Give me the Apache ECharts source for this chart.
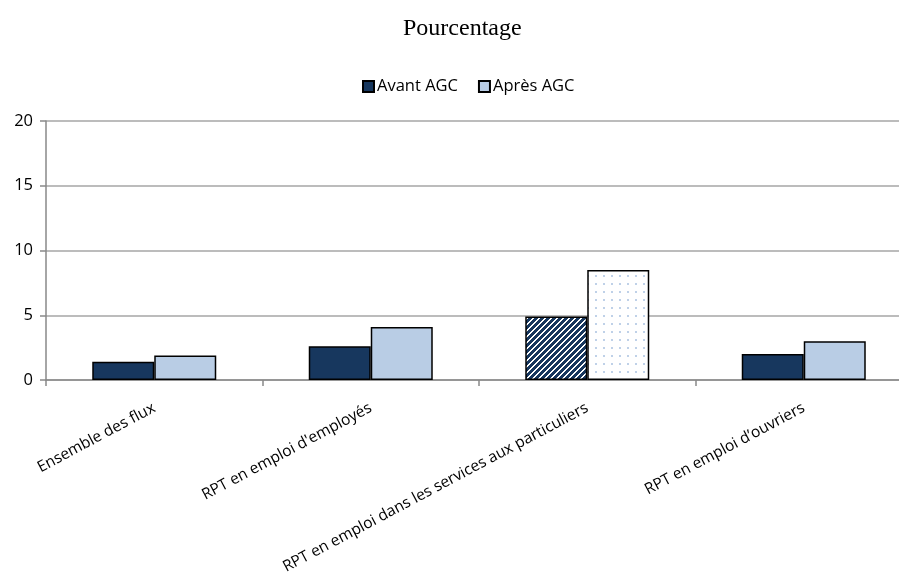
<!DOCTYPE html>
<html>
<head>
<meta charset="utf-8">
<script src="https://cdn.jsdelivr.net/npm/echarts@6/dist/echarts.min.js"></script>
<style>
  html, body { margin: 0; padding: 0; background: #fff; overflow: hidden; }
  /* plot area runs slightly past the right edge of the window */
  #chart { width: 912px; height: 578px; }
</style>
</head>
<body>
<div id="chart"></div>
<script>
// Categories and values (percent)
const categories = [
  "Ensemble des flux",
  "RPT en emploi d'employés",
  "RPT en emploi dans les services aux particuliers",
  "RPT en emploi d\u2019ouvriers"
];
const avantAGC = [1.4, 2.6, 4.9, 2.0];
const apresAGC = [1.9, 4.1, 8.5, 3.0];
const seriesNames = ["Avant AGC", "Après AGC"];
const yMin = 0, yMax = 20, yStep = 5;
const patternedIndex = 2; // category drawn with hatch / dot fills

const navy = "#17375e";
const lightBlue = "#b9cde5";
const uiFont = "'Open Sans', 'Liberation Sans', sans-serif";

// Diagonal navy stripes on white
function makeStripeTile() {
  const s = 6;
  const c = document.createElement("canvas");
  c.width = s; c.height = s;
  const ctx = c.getContext("2d");
  const img = ctx.createImageData(s, s);
  for (let y = 0; y < s; y++) {
    for (let x = 0; x < s; x++) {
      const k = (x + y) % s;
      const dark = k < 3.5;
      const i = (y * s + x) * 4;
      img.data[i] = dark ? 0x17 : 0xff;
      img.data[i + 1] = dark ? 0x37 : 0xff;
      img.data[i + 2] = dark ? 0x5e : 0xff;
      img.data[i + 3] = 255;
    }
  }
  ctx.putImageData(img, 0, 0);
  return c;
}

// Sparse light-blue dots on white
function makeDotTile() {
  const s = 8;
  const c = document.createElement("canvas");
  c.width = s; c.height = s;
  const ctx = c.getContext("2d");
  ctx.fillStyle = "#ffffff";
  ctx.fillRect(0, 0, s, s);
  ctx.fillStyle = "#bfd1e8";
  ctx.fillRect(3, 3, 2, 2);
  return c;
}

const stripeFill = { image: makeStripeTile(), repeat: "repeat" };
const dotFill = { image: makeDotTile(), repeat: "repeat" };

function buildData(values, pattern) {
  return values.map((v, i) => i === patternedIndex
    ? { value: v, itemStyle: { color: pattern } }
    : v);
}

const chart = echarts.init(document.getElementById("chart"), null, { renderer: "canvas" });

chart.setOption({
  animation: false,
  backgroundColor: "#ffffff",
  title: {
    text: "Pourcentage",
    left: 398,
    top: 12,
    textStyle: {
      fontFamily: "'Liberation Serif', 'DejaVu Serif', serif",
      fontWeight: "normal",
      fontSize: 24,
      color: "#000"
    }
  },
  legend: {
    data: seriesNames,
    left: 357,
    top: 73,
    itemWidth: 11,
    itemHeight: 11,
    itemGap: 20,
    icon: "rect",
    textStyle: { fontFamily: uiFont, fontSize: 16.5, color: "#000", padding: [0, 0, 0, -2] }
  },
  grid: { left: 46, right: 0, top: 121, bottom: 198 },
  xAxis: {
    type: "category",
    data: categories,
    axisLine: { lineStyle: { color: "#898989", width: 1.5 } },
    axisTick: { show: true, length: 6, lineStyle: { color: "#898989", width: 1.5 } },
    axisLabel: {
      rotate: 28,
      margin: 27,
      interval: 0,
      fontFamily: uiFont,
      fontSize: 15.5,
      color: "#000"
    }
  },
  yAxis: {
    type: "value",
    min: yMin,
    max: yMax,
    interval: yStep,
    axisLine: { show: true, lineStyle: { color: "#898989", width: 1.5 } },
    axisTick: { show: true, length: 6, lineStyle: { color: "#898989", width: 1.5 } },
    splitLine: { lineStyle: { color: "#a6a6a6", width: 1.5 } },
    axisLabel: {
      margin: 13,
      fontFamily: uiFont,
      fontSize: 16.5,
      color: "#000"
    }
  },
  series: [
    {
      name: seriesNames[0],
      type: "bar",
      data: buildData(avantAGC, stripeFill),
      barWidth: 62,
      barGap: "0%",
      itemStyle: { color: navy, borderColor: "#000", borderWidth: 1.5 }
    },
    {
      name: seriesNames[1],
      type: "bar",
      data: buildData(apresAGC, dotFill),
      barWidth: 62,
      barGap: "0%",
      itemStyle: { color: lightBlue, borderColor: "#000", borderWidth: 1.5 }
    }
  ]
});
</script>
</body>
</html>
